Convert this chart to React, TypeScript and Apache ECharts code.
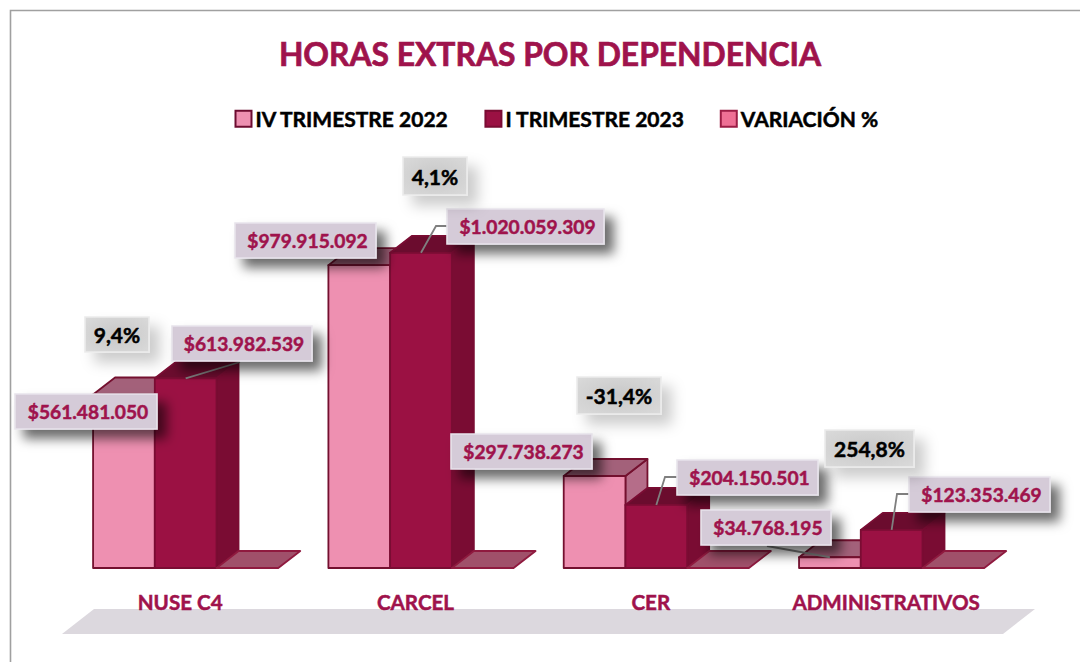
import React, { useEffect, useRef } from "react";
import * as echarts from "echarts";

const TITLE = "HORAS EXTRAS POR DEPENDENCIA";
const categories = ["NUSE C4", "CARCEL", "CER", "ADMINISTRATIVOS"];
const seriesNames = ["IV TRIMESTRE 2022", "I TRIMESTRE 2023", "VARIACIÓN %"];
const trimestre2022 = [561481050, 979915092, 297738273, 34768195];
const trimestre2023 = [613982539, 1020059309, 204150501, 123353469];
const variacion = [0.094, 0.041, -0.314, 2.548];

const FONT = "Lato";
const TEXT_RED = "#9f134c";

// Faces of each 3D bar
const FACES = [
  { front: "#ee90b1", side: "#b56d89", top: "#a3617a", line: "#74102f" },
  { front: "#9b1143", side: "#7a0c33", top: "#6b0c2e", line: "#7a0c33" },
  { front: "#a0506a", side: "#a0506a", top: "#a0506a", line: "#8f1a3f" },
];
const LEGEND_COLORS = [
  { color: "#ee90b1", borderColor: "#6d0c30" },
  { color: "#9b1143", borderColor: "#7a0c33" },
  { color: "#ee7095", borderColor: "#9b1d45" },
];
const BAR_RATIO = 0.2623;
const SHIFT_X = 5.5;
const DEPTH_X = 22;
const DEPTH_Y = 17;

// Manually placed label boxes [x, y, w, h], per series and category
const valueBoxes2022 = [
  [15, 394, 142, 35],
  [235, 223, 141, 35],
  [451, 434, 141, 35],
  [701, 510, 130, 35],
];
const valueBoxes2023 = [
  [172, 326, 140, 35],
  [447, 209, 157, 35],
  [677, 460, 141, 35],
  [909, 477, 141, 35],
];
const percentBoxes = [
  [85, 317, 64, 35],
  [403, 157, 64, 38],
  [577, 377, 84, 37],
  [825, 430, 89, 37],
];
// Leader line waypoints, from the top of the bar out to the label
const leaders2022 = [null, null, null, [[767, 546]]];
const leaders2023 = [
  [[240, 362]],
  [[436, 226], [447, 226]],
  [[665, 477], [677, 477]],
  [[897, 494], [909, 494]],
];

const money = (v: number) =>
  "$" + String(Math.round(v)).replace(/\B(?=(\d{3})+(?!\d))/g, ".");
const percent = (v: number) => (v * 100).toFixed(1).replace(".", ",") + "%";

function barGeom(api: any, si: number) {
  const cat = api.value(0);
  const val = api.value(1);
  const t = api.coord([cat, val]);
  const b = api.coord([cat, 0]);
  const w = api.size([1, 0])[0] * BAR_RATIO;
  const x0 = t[0] + SHIFT_X + (si - 1.5) * w;
  return { x0, x1: x0 + w, yt: t[1], yb: b[1], w };
}

function bar3d(si: number) {
  return (_p: any, api: any) => {
    const { x0, x1, yt, yb } = barGeom(api, si);
    const f = FACES[si];
    const ln = { stroke: f.line, lineWidth: 1.8, lineJoin: "round" };
    const dx = DEPTH_X;
    const dy = DEPTH_Y;
    const flat = si === 2;
    const children: any[] = [];
    if (flat) {
      children.push({
        type: "polygon",
        shape: { points: [[x0, yb], [x1, yb], [x1 + dx, yb - dy], [x0 + dx, yb - dy]] },
        style: { fill: f.top, ...ln },
      });
    } else {
      children.push(
        {
          type: "polygon",
          shape: { points: [[x1, yb], [x1 + dx, yb - dy], [x1 + dx, yt - dy], [x1, yt]] },
          style: { fill: f.side, ...ln },
        },
        {
          type: "polygon",
          shape: { points: [[x0, yt], [x1, yt], [x1 + dx, yt - dy], [x0 + dx, yt - dy]] },
          style: { fill: f.top, ...ln },
        },
        {
          type: "rect",
          shape: { x: x0, y: yt, width: x1 - x0, height: yb - yt },
          style: { fill: f.front, ...ln },
        }
      );
    }
    return { type: "group", children };
  };
}

function labelItem(si: number, boxes: number[][], fmt: (v: number) => string, leaders?: any[]) {
  return (_p: any, api: any) => {
    const i = _p.dataIndex;
    const [x, y, w, h] = boxes[i];
    const { x0, x1, yt } = barGeom(api, si);
    const isPct = si === 2;
    const children: any[] = [];
    const way = leaders && leaders[i];
    if (way) {
      children.push({
        type: "polyline",
        shape: { points: [[(x0 + x1) / 2, yt], ...way] },
        style: { fill: "none", stroke: "#7f7f7f", lineWidth: 1.8 },
      });
    }
    children.push({
      type: "rect",
      shape: { x, y, width: w, height: h },
      style: isPct
        ? {
            fill: {
              type: "radial", x: 0.5, y: 0.5, r: 0.7,
              colorStops: [{ offset: 0, color: "#c8c8c8" }, { offset: 1, color: "#dadada" }],
            },
            stroke: "#ebebeb",
            lineWidth: 1.6,
            shadowColor: "rgba(0,0,0,0.2)",
            shadowBlur: 14,
            shadowOffsetX: 10,
            shadowOffsetY: 10,
          }
        : {
            fill: "#d5cbd8",
            stroke: "#e8e4ec",
            lineWidth: 1.6,
            shadowColor: "rgba(0,0,0,0.58)",
            shadowBlur: 12,
            shadowOffsetX: 9,
            shadowOffsetY: 9,
          },
    });
    children.push({
      type: "text",
      style: {
        text: fmt(api.value(1)),
        x: x + w / 2 + (isPct ? 0 : 2),
        y: y + h / 2,
        textAlign: "center",
        textVerticalAlign: "middle",
        fill: isPct ? "#000000" : TEXT_RED,
        stroke: isPct ? "#000000" : TEXT_RED,
        lineWidth: 0.5,
        fontFamily: FONT,
        fontWeight: "bold",
        fontSize: isPct ? 21 : 19.2,
      },
    });
    return { type: "group", children };
  };
}

const seriesData = [trimestre2022, trimestre2023, variacion];

export default function App() {
  const ref = useRef<HTMLDivElement>(null);
  useEffect(() => {
    const chart = echarts.init(ref.current!, null, { renderer: "svg" });
    const toData = (vals: number[]) => vals.map((v, i) => [i, v]);
    chart.setOption({
      animation: false,
      backgroundColor: "#ffffff",
      title: {
        text: TITLE,
        left: 545,
        top: 33,
        textAlign: "center",
        textStyle: {
          color: TEXT_RED, fontFamily: FONT, fontWeight: "bold", fontSize: 31.8,
          textBorderColor: TEXT_RED, textBorderWidth: 0.7,
        },
      },
      legend: {
        data: seriesNames,
        left: 229.5,
        top: 103,
        itemWidth: 16,
        itemHeight: 16,
        itemGap: 35,
        icon: "rect",
        textStyle: {
          color: "#000000", fontFamily: FONT, fontWeight: "bold", fontSize: 21,
          padding: [0, 0, 0, -1], textBorderColor: "#000000", textBorderWidth: 0.5,
        },
      },
      grid: { left: 62.5, width: 941.3, top: 197.2, height: 370.8 },
      xAxis: {
        type: "category",
        data: categories,
        axisLine: { show: false },
        axisTick: { show: false },
        axisLabel: {
          color: TEXT_RED,
          fontFamily: FONT,
          fontWeight: "bold",
          fontSize: 20.6,
          margin: 23,
          interval: 0,
          textBorderColor: TEXT_RED,
          textBorderWidth: 0.5,
        },
        z: 3,
      },
      yAxis: { type: "value", min: 0, max: 1200000000, show: false },
      graphic: [
        {
          type: "polygon",
          z: -10,
          silent: true,
          shape: { points: [[94, 609], [1035, 609], [1003, 634], [62, 634]] },
          style: { fill: "#dcd8de" },
        },
        {
          type: "polyline",
          z: -10,
          silent: true,
          shape: { points: [[10.5, 662], [10.5, 10.5], [1080, 10.5]] },
          style: { fill: "none", stroke: "#a0a0a0", lineWidth: 1.6 },
        },
      ],
      series: [
        ...seriesNames.map((name, si) => ({
          type: "custom",
          name,
          z: 2 + si,
          itemStyle: { ...LEGEND_COLORS[si], borderWidth: 2 },
          encode: { x: 0, y: 1 },
          data: toData(seriesData[si]),
          renderItem: bar3d(si),
        })),
        {
          type: "custom",
          name: "labels2023",
          z: 10,
          encode: { x: 0, y: 1 },
          data: toData(trimestre2023),
          renderItem: labelItem(1, valueBoxes2023, money, leaders2023),
        },
        {
          type: "custom",
          name: "labels2022",
          z: 11,
          encode: { x: 0, y: 1 },
          data: toData(trimestre2022),
          renderItem: labelItem(0, valueBoxes2022, money, leaders2022),
        },
        {
          type: "custom",
          name: "labelsVariacion",
          z: 12,
          encode: { x: 0, y: 1 },
          data: toData(variacion),
          renderItem: labelItem(2, percentBoxes, percent),
        },
      ],
    });
    return () => chart.dispose();
  }, []);
  return (
    <div
      ref={ref}
      style={{ position: "absolute", left: 0, top: 0, width: 1080, height: 662 }}
    />
  );
}
